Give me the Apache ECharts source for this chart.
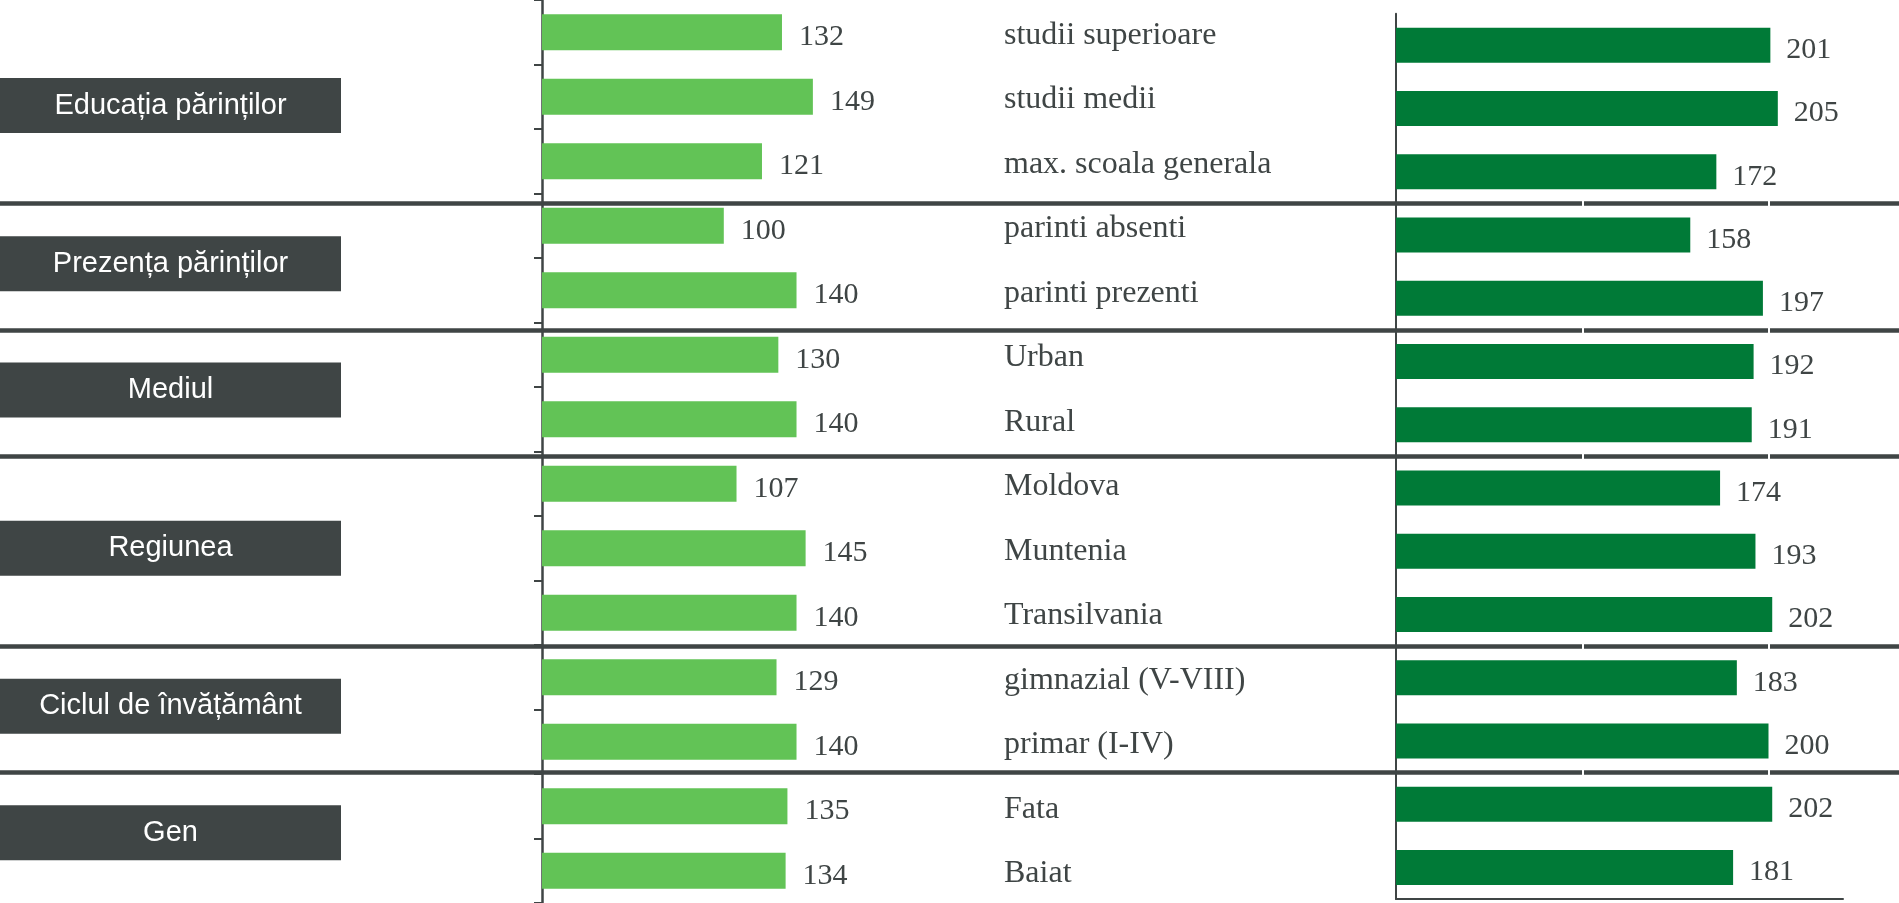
<!DOCTYPE html>
<html>
<head>
<meta charset="utf-8">
<script src="https://cdn.jsdelivr.net/npm/echarts@6/dist/echarts.min.js"></script>
<style>
  html, body { margin: 0; padding: 0; background: #fff; }
  #root { width: 1899px; height: 903px; }
</style>
</head>
<body>
<div id="root"></div>
<script>
// date
const categories = [
  'studii superioare', 'studii medii', 'max. scoala generala',
  'parinti absenti', 'parinti prezenti',
  'Urban', 'Rural',
  'Moldova', 'Muntenia', 'Transilvania',
  'gimnazial (V-VIII)', 'primar (I-IV)',
  'Fata', 'Baiat',
];
const leftValues = [132, 149, 121, 100, 140, 130, 140, 107, 145, 140, 129, 140, 135, 134];
const rightValues = [201, 205, 172, 158, 197, 192, 191, 174, 193, 202, 183, 200, 202, 181];
const groupNames = ['Educația părinților', 'Prezența părinților', 'Mediul', 'Regiunea', 'Ciclul de învățământ', 'Gen'];
const groupSizes = [3, 2, 2, 3, 2, 2];

const DARK = '#3f4545';
const LIGHT_GREEN = '#62c356';
const DARK_GREEN = '#007a37';
const SERIF = '"Liberation Serif", "DejaVu Serif", serif';
const SANS = '"Liberation Sans", Arial, sans-serif';

// indexuri unde incepe un grup nou (linii separatoare)
const boundaries = [];
let acc = 0;
groupSizes.slice(0, -1).forEach((n) => {
  acc += n;
  boundaries.push(acc);
});

const myChart = echarts.init(document.getElementById('root'));

const options = {
  animation: false,
  grid: [
    { left: 542, width: 454.5, top: 0, height: 908 },
    { left: 1396, width: 447, top: 13.7, height: 885.3 },
    { left: 0, right: 0, top: 13.7, height: 885.3 },
  ],
  xAxis: [
    { gridIndex: 0, type: 'value', min: 0, max: 250, show: false },
    {
      gridIndex: 1,
      type: 'value',
      min: 0,
      max: 240,
      interval: 100,
      z: 1,
      axisLabel: { show: false },
      axisTick: { show: false },
      axisLine: { show: true, lineStyle: { color: DARK, width: 2 } },
      splitLine: {
        show: true,
        showMinLine: false,
        showMaxLine: false,
        lineStyle: { color: '#fff', width: 2 },
      },
    },
    { gridIndex: 2, type: 'value', min: 0, max: 1, show: false },
  ],
  yAxis: [
    {
      gridIndex: 0,
      type: 'category',
      data: categories,
      inverse: true,
      z: 1,
      axisLine: { show: true, lineStyle: { color: DARK, width: 2.5 } },
      axisTick: { show: true, length: 8, lineStyle: { color: DARK, width: 2 } },
      axisLabel: {
        inside: true,
        margin: 462,
        interval: 0,
        formatter: '{c|{value}}',
        rich: {
          c: {
            padding: [6, 0, 0, 0],
            fontFamily: SERIF,
            fontSize: 32,
            color: DARK,
          },
        },
      },
    },
    {
      gridIndex: 1,
      type: 'category',
      data: categories,
      inverse: true,
      z: 1,
      axisLine: { show: true, lineStyle: { color: DARK, width: 2 } },
      axisTick: { show: false },
      axisLabel: { show: false },
    },
    {
      gridIndex: 2,
      type: 'category',
      data: categories,
      inverse: true,
      z: 0,
      axisLine: { show: false },
      axisTick: { show: false },
      axisLabel: { show: false },
      splitLine: {
        show: true,
        showMaxLine: false,
        interval: (idx) => boundaries.includes(idx),
        lineStyle: { color: DARK, width: 4.5 },
      },
    },
  ],
  series: [
    {
      type: 'bar',
      xAxisIndex: 0,
      yAxisIndex: 0,
      data: leftValues,
      barWidth: 36,
      itemStyle: { color: LIGHT_GREEN },
      label: {
        show: true,
        position: 'right',
        distance: 17,
        offset: [0, 5],
        fontFamily: SERIF,
        fontSize: 30,
        color: DARK,
      },
    },
    {
      type: 'bar',
      xAxisIndex: 1,
      yAxisIndex: 1,
      data: rightValues,
      barWidth: 35,
      itemStyle: { color: DARK_GREEN },
      label: {
        show: true,
        position: 'right',
        distance: 16,
        offset: [0, 5],
        fontFamily: SERIF,
        fontSize: 30,
        color: DARK,
      },
    },
  ],
};

myChart.setOption(options);

// casetele cu numele grupurilor, centrate pe grupul lor
const graphics = [];
let start = 0;
groupNames.forEach((name, i) => {
  const first = myChart.convertToPixel({ yAxisIndex: 2 }, categories[start]);
  const last = myChart.convertToPixel({ yAxisIndex: 2 }, categories[start + groupSizes[i] - 1]);
  const cy = (first + last) / 2 - 3;
  graphics.push({
    type: 'rect',
    left: 0,
    top: cy - 27.5,
    shape: { width: 341, height: 55 },
    style: { fill: DARK },
    textContent: {
      style: {
        text: name,
        fill: '#fff',
        fontFamily: SANS,
        fontSize: 29,
      },
    },
    textConfig: { position: 'inside' },
  });
  start += groupSizes[i];
});
myChart.setOption({ graphic: graphics });
</script>
</body>
</html>
